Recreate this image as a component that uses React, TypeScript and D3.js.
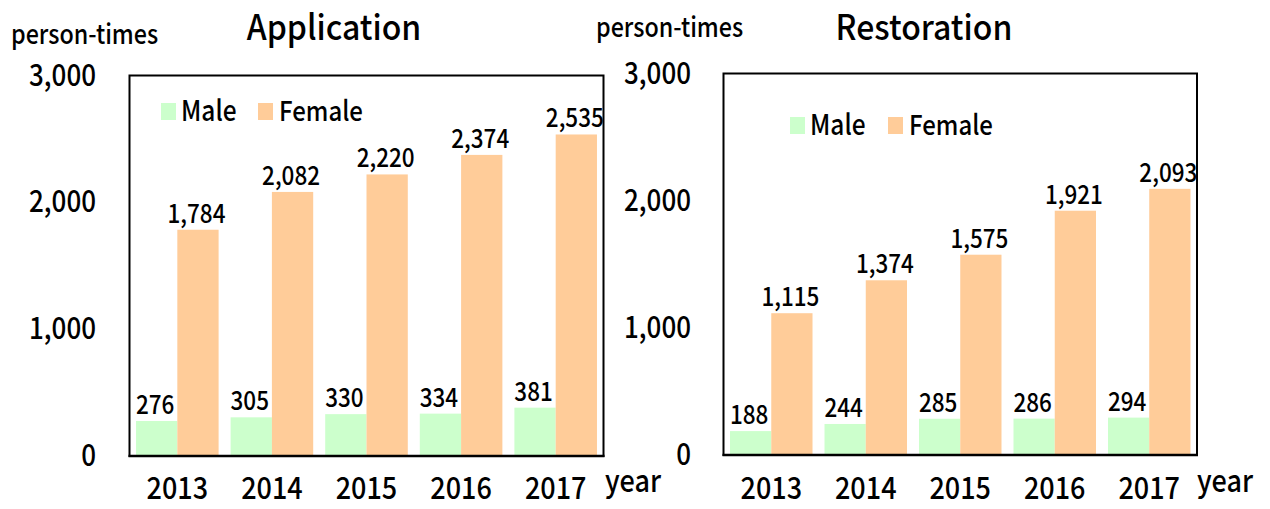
import React from "react";
import * as d3 from "d3";

const years = ["2013", "2014", "2015", "2016", "2017"];
const appMale = [276, 305, 330, 334, 381];
const appFemale = [1784, 2082, 2220, 2374, 2535];
const resMale = [188, 244, 285, 286, 294];
const resFemale = [1115, 1374, 1575, 1921, 2093];
const yTicks = [0, 1000, 2000, 3000];
const seriesNames = ["Male", "Female"];
const seriesColors = ["#CCFFCC", "#FFCC99"];

const FONT = "'Noto Sans CJK TC', 'Noto Sans', sans-serif";
const SY = 1.15;
const fmt = d3.format(",");

function T({ x, y, size, anchor = "start", sy = SY, children }: any) {
  return (
    <text
      transform={`translate(${x},${y}) scale(1,${sy})`}
      fontSize={size}
      textAnchor={anchor}
      fontFamily={FONT}
      fontWeight={500}
      fill="#000"
    >
      {children}
    </text>
  );
}

const panels = [
  {
    title: "Application",
    male: appMale,
    female: appFemale,
    x0: 129.5, x1: 603.5, yTop: 75.5, yBot: 456,
    tickRight: 96, unitX: 11, unitY: 44, titleX: 334, titleY: 40,
    legX: 161, legY: 103, legX2: 258, yearX: 605,
  },
  {
    title: "Restoration",
    male: resMale,
    female: resFemale,
    x0: 723.5, x1: 1197, yTop: 73.5, yBot: 455,
    tickRight: 691, unitX: 596, unitY: 37, titleX: 924, titleY: 40,
    legX: 790, legY: 117, legX2: 888, yearX: 1197,
  },
];

function Panel({ p }: any) {
  const x = d3.scaleBand<string>().domain(years).range([p.x0, p.x1]).paddingInner(0.127).paddingOuter(0.069);
  const sub = d3.scaleBand<string>().domain(seriesNames).range([0, x.bandwidth()]);
  const y = d3.scaleLinear().domain([0, 3000]).range([p.yBot, p.yTop]);
  const series = [p.male, p.female];
  return (
    <g>
      {series.map((vals: number[], si: number) =>
        years.map((yr, i) => (
          <rect
            key={`${si}-${yr}`}
            x={(x(yr) as number) + (sub(seriesNames[si]) as number)}
            y={y(vals[i])}
            width={sub.bandwidth()}
            height={p.yBot - y(vals[i])}
            fill={seriesColors[si]}
          />
        ))
      )}
      {series.map((vals: number[], si: number) =>
        years.map((yr, i) => (
          <T
            key={`l${si}-${yr}`}
            x={(x(yr) as number) + (sub(seriesNames[si]) as number) + sub.bandwidth() / 2 - 1.5}
            y={y(vals[i]) - 7}
            size={22.5}
            anchor="middle"
          >
            {fmt(vals[i])}
          </T>
        ))
      )}
      <rect x={p.x0} y={p.yTop} width={p.x1 - p.x0} height={p.yBot - p.yTop} fill="none" stroke="#000" strokeWidth={2} />
      <line x1={p.x0 - 1} x2={p.x1 + 1} y1={p.yBot} y2={p.yBot} stroke="#000" strokeWidth={2.5} />
      {yTicks.map((t) => (
        <T key={t} x={p.tickRight} y={y(t) + 10} size={26} anchor="end">
          {fmt(t)}
        </T>
      ))}
      {years.map((yr) => (
        <T key={yr} x={(x(yr) as number) + x.bandwidth() / 2} y={499} size={27} anchor="middle">
          {yr}
        </T>
      ))}
      <T x={p.yearX} y={492} size={27}>year</T>
      <T x={p.unitX} y={p.unitY} size={23.3}>person-times</T>
      <T x={p.titleX} y={p.titleY} size={32} sy={1.08} anchor="middle">{p.title}</T>
      <rect x={p.legX} y={p.legY} width={15} height={17} fill={seriesColors[0]} />
      <T x={p.legX + 20} y={p.legY + 17.5} size={24.5}>{seriesNames[0]}</T>
      <rect x={p.legX2} y={p.legY} width={15} height={17} fill={seriesColors[1]} />
      <T x={p.legX2 + 21} y={p.legY + 17.5} size={24}>{seriesNames[1]}</T>
    </g>
  );
}

export default function App() {
  return (
    <svg width={1270} height={509} style={{ position: "absolute", left: 0, top: 0, background: "#fff" }}>
      {panels.map((p) => (
        <Panel key={p.title} p={p} />
      ))}
    </svg>
  );
}
